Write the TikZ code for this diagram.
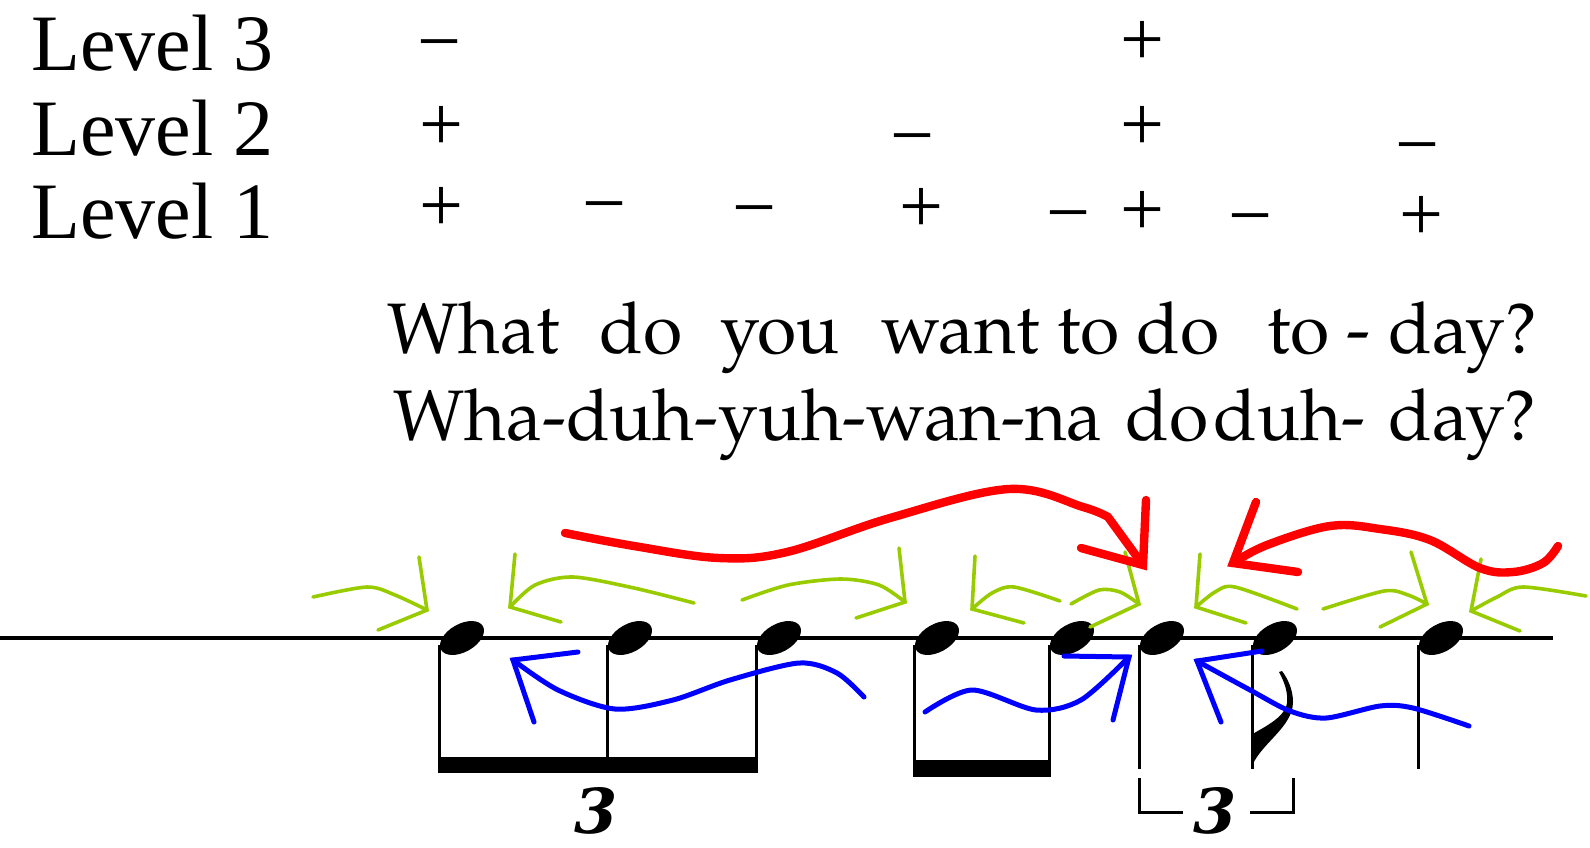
\documentclass[tikz,border=0pt]{standalone}
\usepackage{fontspec}
\setmainfont{Liberation Serif}
\newfontfamily\lyricfont{TeX Gyre Pagella}
\newfontfamily\tupletfont{DejaVu Serif}
\usetikzlibrary{shapes.geometric}
\definecolor{stressgreen}{RGB}{153, 204, 0}
\definecolor{stressblue}{RGB}{0, 0, 255}
\definecolor{stressred}{RGB}{255, 0, 0}
\newcommand{\stressplus}{\vphantom{+}+}
\newcommand{\stressminus}{\vphantom{+}−}

\begin{document}
\begin{tikzpicture}[
  x=0.5pt, y=-0.5pt,
  level/.style={anchor=base west, inner sep=0pt, font=\fontsize{40}{40}\selectfont},
  sym/.style={inner sep=0pt, font=\fontsize{39}{39}\selectfont},
  lyric/.style={anchor=base west, inner sep=0pt, font=\lyricfont\fontsize{35.75}{36}\selectfont},
  notehead/.style={ellipse, fill, inner sep=0pt, minimum width=24pt, minimum height=14pt, rotate=29.5},
  stemline/.style={line width=1.5pt},
  tuplet/.style={inner sep=0pt, font=\tupletfont\bfseries\itshape\fontsize{31}{31}\selectfont},
  greenarr/.style={draw=stressgreen, line width=1.8pt, line cap=round},
  bluearr/.style={draw=stressblue, line width=2.5pt, line cap=round},
  redarr/.style={draw=stressred, line width=4.2pt, line cap=round},
]
  \useasboundingbox (0,0) rectangle (1590,847);

  % metrical grid
  \node[level] (l3) at (31,70) {Level 3};
  \node[level] (l2) at (31,155) {Level 2};
  \node[level] (l1) at (31,238) {Level 1};
  \foreach \px/\py/\s [count=\k] in {439/45/\stressminus, 1142/43/\stressplus,
      441/128/\stressplus, 912/139/\stressminus, 1142/128/\stressplus, 1417/148/\stressminus,
      441/209/\stressplus, 604/207/\stressminus, 754/211/\stressminus, 921/210/\stressplus,
      1068/216/\stressminus, 1142/213/\stressplus, 1250/219/\stressminus, 1421/218/\stressplus}
    \node[sym] (s\k) at (\px,\py) {\s};

  % lyrics
  \node[lyric] (w1) at (387,353) {What};
  \node[lyric] (w2) at (599,353) {do};
  \node[lyric] (w3) at (720,353) {you};
  \node[lyric] (w4) at (881,353) {want to do};
  \node[lyric] (w5) at (1267,353) {to - day?};
  \node[lyric] (r1) at (393,440) {Wha-duh-yuh-wan-na};
  \node[lyric] (r2) at (1125,440) {do};
  \node[lyric] (r3) at (1213,440) {duh-};
  \node[lyric] (r4) at (1388,440) {day?};

  % staff and notes
  \draw[line width=1.75pt] (0,638) -- (1553,638);
  \foreach \sx [count=\i] in {439,607,756,914,1049,1139,1252,1418}
    \node[notehead] (n\i) at (\sx+23,638) {};
  \foreach \sx in {439,607,756} \draw[stemline] (\sx,645) -- (\sx,765);
  \foreach \sx in {914,1049} \draw[stemline] (\sx,645) -- (\sx,768);
  \foreach \sx in {1139,1252,1418} \draw[stemline] (\sx,645) -- (\sx,769);
  \fill (437.5,757) rectangle (758,773);
  \fill (912.5,760) rectangle (1050.5,777);
  \fill (1251,769) .. controls (1258,745) and (1293,728) .. (1293,702)
    .. controls (1293,690) and (1288,679) .. (1282,671) -- (1279,672)
    .. controls (1285,683) and (1288,693) .. (1287,703)
    .. controls (1285,718) and (1262,728) .. (1251,735) -- cycle;

  % tuplets
  \node[tuplet] (t1) at (596,811) {3};
  \node[tuplet] (t2) at (1215,811) {3};
  \draw[stemline] (1139,778) |- (1183,812);
  \draw[stemline] (1250,812) -| (1293,778);

  % green arrows
  \coordinate (g1) at (427,610);
  \coordinate (g2) at (510,607);
  \coordinate (g3) at (905,602);
  \coordinate (g4) at (972,609);
  \coordinate (g5) at (1139,604);
  \coordinate (g6) at (1196,607);
  \coordinate (g7) at (1427,604);
  \coordinate (g8) at (1471,611);
  \draw[greenarr] plot[smooth] coordinates {(313,597) (367,587) (395,595) (g1)};
  \draw[greenarr] (419,557) -- (g1) -- (378,630);
  \draw[greenarr] plot[smooth] coordinates {(694,603) (634,588) (573,577) (535,585) (g2)};
  \draw[greenarr] (515,554) -- (g2) -- (561,622);
  \draw[greenarr] plot[smooth] coordinates {(742,600) (788,585) (841,579) (879,585) (g3)};
  \draw[greenarr] (899,548) -- (g3) -- (856,618);
  \draw[greenarr] plot[smooth] coordinates {(1060,601) (1014,587) (992,593) (g4)};
  \draw[greenarr] (975,556) -- (g4) -- (1024,623);
  \draw[greenarr] plot[smooth] coordinates {(1071,604) (1099,590) (1120,592) (g5)};
  \draw[greenarr] (1125,552) -- (g5) -- (1090,627);
  \draw[greenarr] plot[smooth] coordinates {(1297,609) (1235,587) (1215,592) (g6)};
  \draw[greenarr] (1200,554) -- (g6) -- (1246,623);
  \draw[greenarr] plot[smooth] coordinates {(1323,609) (1384,591) (1408,595) (g7)};
  \draw[greenarr] (1411,552) -- (g7) -- (1380,627);
  \draw[greenarr] plot[smooth] coordinates {(1586,596) (1523,587) (1497,597) (g8)};
  \draw[greenarr] (1481,559) -- (g8) -- (1520,631);

  % blue arrows
  \coordinate (b1) at (513,660);
  \coordinate (b2) at (1129,657);
  \coordinate (b3) at (1197,661);
  \draw[bluearr] plot[smooth] coordinates {(864,697) (837,673) (799,663) (730,680) (673,700) (615,709) (558,690) (b1)};
  \draw[bluearr] (578,652) -- (b1) -- (534,722);
  \draw[bluearr] plot[smooth] coordinates {(925,712) (972,690) (1036,710) (1081,700) (b2)};
  \draw[bluearr] (1064,656) -- (b2) -- (1113,720);
  \draw[bluearr] plot[smooth] coordinates {(1469,726) (1413,708) (1380,706) (1326,718) (1290,711) (1250,690) (b3)};
  \draw[bluearr] (1262,651) -- (b3) -- (1221,722);

  % red arrows
  \coordinate (red1) at (1143,565);
  \coordinate (red2) at (1233,563);
  \draw[redarr] plot[smooth, tension=0.6] coordinates {(565,533) (634,546) (719,558) (787,552) (890,518) (1009,489) (1083,507) (1108,517)} -- (red1);
  \draw[redarr] (1146,500) -- (red1) -- (1081,548);
  \draw[redarr] plot[smooth, tension=0.6] coordinates {(1558,546) (1543,563) (1513,572) (1480,568) (1430,540) (1380,529) (1330,526) (1267,545) (red2)};
  \draw[redarr] (1256,502) -- (red2) -- (1298,572);
\end{tikzpicture}
\end{document}
